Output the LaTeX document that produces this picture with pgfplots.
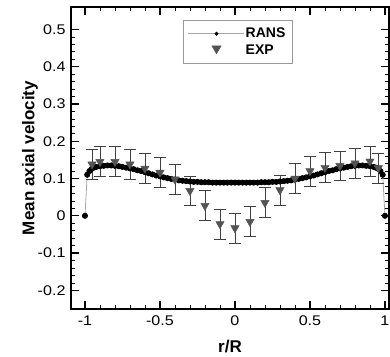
\documentclass[border=0pt]{standalone}
\usepackage{fontspec}
\setmainfont{Liberation Sans}
\usepackage{graphicx}
\usepackage{pgfplots}
\pgfplotsset{compat=1.18}
\newcommand\sx[1]{\scalebox{1.15}[1]{#1}}
\newcommand\legtxt[1]{\fontsize{14}{16}\selectfont\bfseries #1}
\begin{document}
\begin{tikzpicture}
\begin{axis}[
  scale only axis,
  width=318pt, height=302pt,
  xmin=-1.093, xmax=1.027,
  ymin=-0.25, ymax=0.56,
  xtick={-1,-0.5,0,0.5,1},
  xticklabels={\sx{-1},\sx{-0.5},\sx{0},\sx{0.5},\sx{1}},
  ytick={-0.2,-0.1,0,0.1,0.2,0.3,0.4,0.5},
  yticklabels={\sx{-0.2},\sx{-0.1},\sx{0},\sx{0.1},\sx{0.2},\sx{0.3},\sx{0.4},\sx{0.5}},
  minor x tick num=4,
  minor y tick num=4,
  tick align=inside,
  major tick length=8pt,
  minor tick length=4pt,
  tick style={black, line width=1.2pt},
  minor tick style={black, line width=0.6pt},
  axis line style={line width=1.3pt},
  ticklabel style={font=\fontsize{14}{16}\selectfont},
  xticklabel style={yshift=-3pt},
  yticklabel style={xshift=-2pt},
  xlabel={\textbf{r/R}},
  ylabel={\textbf{Mean axial velocity}},
  xlabel style={font=\fontsize{17}{19}\selectfont, at={(axis description cs:0.5,0)}, anchor=center, yshift=-38pt},
  ylabel style={font=\fontsize{17}{19}\selectfont, at={(axis description cs:-0.129,0.5)}, anchor=center, rotate=0},
  legend style={at={(0.524,0.957)}, anchor=north, draw=gray!80, line width=0.7pt,
    inner xsep=5pt, inner ysep=6pt, row sep=1.5pt,
    nodes={inner sep=1.8pt}},
  legend cell align=left,
]
\addplot[gray!70, line width=0.8pt, mark=*, mark size=2.6pt, mark options={black, fill=black},
  legend image code/.code={
    \draw[gray!70, line width=0.8pt] (0pt,0pt) -- (55pt,0pt);
    \fill[black] (28pt,0pt) circle (1.5pt);}
] coordinates {
(-1,0) (-0.985,0.11) (-0.97,0.12) (-0.955,0.126) (-0.94,0.129) (-0.925,0.131)
(-0.9,0.133) (-0.875,0.134) (-0.85,0.135) (-0.825,0.135) (-0.8,0.134) (-0.775,0.133)
(-0.75,0.131) (-0.725,0.129) (-0.7,0.127) (-0.675,0.125) (-0.65,0.122) (-0.625,0.12)
(-0.6,0.117) (-0.575,0.114) (-0.55,0.111) (-0.525,0.108) (-0.5,0.106) (-0.475,0.103)
(-0.45,0.101) (-0.425,0.099) (-0.4,0.097) (-0.375,0.095) (-0.35,0.094) (-0.325,0.093)
(-0.3,0.092) (-0.275,0.091) (-0.25,0.091) (-0.225,0.090) (-0.2,0.090) (-0.175,0.090)
(-0.15,0.089) (-0.125,0.089) (-0.1,0.089) (-0.075,0.089) (-0.05,0.089) (-0.025,0.089)
(0,0.089) (0.025,0.089) (0.05,0.089) (0.075,0.089) (0.1,0.089) (0.125,0.089)
(0.15,0.089) (0.175,0.090) (0.2,0.090) (0.225,0.090) (0.25,0.091) (0.275,0.091)
(0.3,0.092) (0.325,0.093) (0.35,0.094) (0.375,0.095) (0.4,0.097) (0.425,0.099)
(0.45,0.101) (0.475,0.103) (0.5,0.106) (0.525,0.108) (0.55,0.111) (0.575,0.114)
(0.6,0.117) (0.625,0.12) (0.65,0.122) (0.675,0.125) (0.7,0.127) (0.725,0.129)
(0.75,0.131) (0.775,0.133) (0.8,0.134) (0.825,0.135) (0.85,0.135) (0.875,0.134)
(0.9,0.133) (0.925,0.131) (0.94,0.129) (0.955,0.126) (0.97,0.12) (0.985,0.11) (1,0)
};
\addlegendentry{\legtxt{RANS}}
\addplot[only marks, mark=triangle*, mark size=4.8pt, mark options={rotate=180, fill=gray!65!black, draw=gray!65!black},
  legend image code/.code={
    \fill[gray!65!black] (28pt,-3.5pt) -- (23.5pt,4.2pt) -- (32.5pt,4.2pt) -- cycle;},
  error bars/.cd, y dir=both, y explicit,
  error bar style={black!75, line width=0.7pt},
  error mark options={rotate=90, mark size=6pt, black!75, line width=0.7pt}]
coordinates {
(-0.953,0.138) +- (0,0.04)
(-0.9,0.145) +- (0,0.04)
(-0.8,0.145) +- (0,0.04)
(-0.7,0.138) +- (0,0.04)
(-0.6,0.127) +- (0,0.04)
(-0.5,0.116) +- (0,0.04)
(-0.4,0.098) +- (0,0.04)
(-0.3,0.067) +- (0,0.04)
(-0.2,0.027) +- (0,0.04)
(-0.1,-0.022) +- (0,0.04)
(0,-0.033) +- (0,0.04)
(0.1,-0.016) +- (0,0.04)
(0.2,0.035) +- (0,0.04)
(0.3,0.069) +- (0,0.04)
(0.4,0.1) +- (0,0.04)
(0.5,0.12) +- (0,0.04)
(0.6,0.129) +- (0,0.04)
(0.7,0.134) +- (0,0.04)
(0.8,0.141) +- (0,0.04)
(0.9,0.146) +- (0,0.04)
(0.956,0.128) +- (0,0.04)
};
\addlegendentry{\legtxt{EXP}}
\end{axis}
\pgfresetboundingbox
\path (current axis.south west) ++(-71pt,-48pt) rectangle ([xshift=1pt,yshift=7pt]current axis.north east);
\end{tikzpicture}
\end{document}
